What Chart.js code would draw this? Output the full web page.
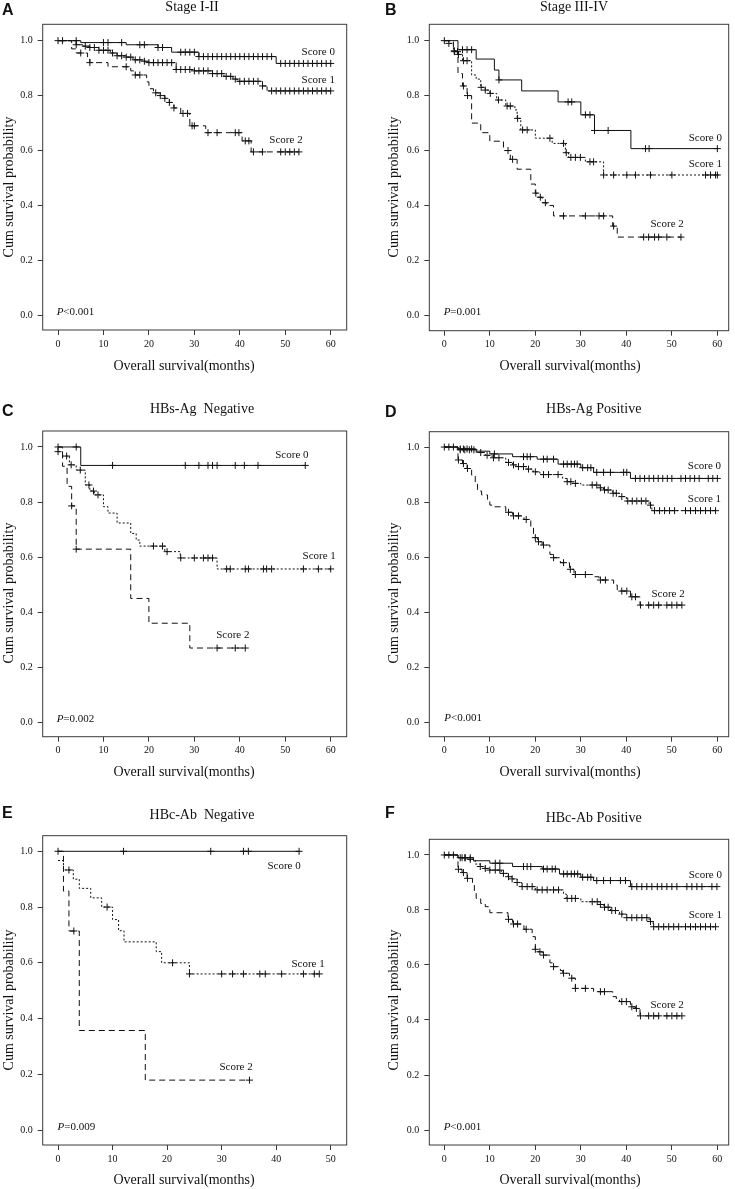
<!DOCTYPE html>
<html>
<head>
<meta charset="utf-8">
<script src="https://cdn.jsdelivr.net/npm/chart.js@4.4.1/dist/chart.umd.min.js"></script>
<style>
  html, body { margin: 0; padding: 0; background: #fff; }
  body { position: relative; width: 735px; height: 1189px; overflow: hidden; }
  canvas { position: absolute; }
</style>
</head>
<body>
<script>
// Kaplan-Meier curves: steps are [month, survival after the drop],
// censored are the months carrying a "+" mark.

// A: Stage I-II
const stageLowScore0Steps = [[0, 1], [5, 0.993], [15, 0.985], [22, 0.975], [25, 0.958], [31, 0.942], [48, 0.917]]
const stageLowScore0Censored = [0, 1, 4, 10, 11, 14, 18, 19, 22, 23, 27, 28, 29, 30, 31, 32, 33, 34, 35, 36, 37, 38, 39, 40, 41, 42, 43, 44, 45, 46, 47, 49, 50, 51, 52, 53, 54, 55, 56, 57, 58, 59, 60]
const stageLowScore1Steps = [[0, 1], [4, 0.985], [5.5, 0.98], [7, 0.975], [9, 0.965], [11.5, 0.955], [13, 0.945], [15, 0.94], [16.5, 0.93], [19, 0.925], [20, 0.92], [26, 0.895], [30, 0.89], [34, 0.88], [36.5, 0.87], [38.5, 0.86], [39.5, 0.852], [45, 0.835], [46, 0.817]]
const stageLowScore1Censored = [4, 6, 7, 8, 9, 10, 11, 12, 13, 14, 15, 16, 17, 18, 19, 20, 21, 22, 23, 24, 25, 26, 27, 28, 29, 30, 31, 32, 33, 34, 35, 36, 37, 38, 39, 40, 41, 42, 43, 44, 45, 47, 48, 49, 50, 51, 52, 53, 54, 55, 56, 57, 58, 59, 60]
const stageLowScore2Steps = [[0, 1], [3, 0.97], [4, 0.955], [6.5, 0.935], [7, 0.92], [11, 0.905], [16, 0.89], [17, 0.875], [19.5, 0.85], [20, 0.825], [21, 0.81], [22.5, 0.8], [23.5, 0.79], [24.5, 0.775], [25.5, 0.755], [27, 0.735], [29, 0.69], [32.5, 0.665], [40.5, 0.635], [42.5, 0.595]]
const stageLowScore2Censored = [5, 7, 15, 17, 18, 21.5, 22.5, 23.5, 24.5, 25.5, 27.5, 28.5, 29.5, 30, 33, 35, 39, 39.8, 41.2, 42, 43, 45, 49, 50, 51, 52, 53]

// B: Stage III-IV
const stageHighScore0Steps = [[0, 1], [3, 0.967], [7, 0.933], [11, 0.893], [12, 0.857], [17, 0.817], [25, 0.777], [30, 0.73], [33, 0.673], [41, 0.607]]
const stageHighScore0Censored = [0, 4, 5, 6, 12, 27.2, 28, 31, 32, 33, 36, 44.2, 45, 60]
const stageHighScore1Steps = [[0, 1], [1, 0.99], [2, 0.963], [3, 0.95], [4, 0.927], [6, 0.875], [7, 0.86], [8, 0.83], [9, 0.82], [10, 0.808], [11.5, 0.784], [13.5, 0.762], [15.5, 0.748], [16, 0.717], [16.8, 0.675], [20, 0.645], [23.7, 0.626], [26.6, 0.592], [27.3, 0.575], [31, 0.559], [35, 0.511]]
const stageHighScore1Censored = [1, 2.2, 3.1, 4.2, 5, 8.1, 9, 10.1, 11.9, 13.8, 14.5, 16.1, 17.2, 18.2, 23.2, 26.2, 26.8, 27.8, 28.8, 29.9, 32, 32.8, 35, 37.2, 40.1, 42, 45.3, 50, 57.4, 58.5, 59.6, 60]
const stageHighScore2Steps = [[0, 1], [2, 0.96], [3, 0.88], [4, 0.835], [5, 0.8], [6, 0.7], [8, 0.665], [10, 0.634], [13, 0.6], [14.5, 0.568], [16, 0.532], [19, 0.478], [20, 0.445], [20.5, 0.43], [21.5, 0.41], [22.5, 0.4], [24, 0.362], [37, 0.325], [38, 0.285]]
const stageHighScore2Censored = [2.2, 2.9, 4.2, 5.1, 14, 15, 20.1, 21.1, 22.2, 26.2, 31, 34, 35, 37.2, 43.8, 44.9, 46.2, 47.1, 48.9, 52]

// C: HBs-Ag Negative
const hbsNegScore0Steps = [[0, 1], [5, 0.933]]
const hbsNegScore0Censored = [0, 4, 12, 28, 31, 33, 34, 35, 39, 41, 44, 54.4]
const hbsNegScore1Steps = [[0, 0.983], [1, 0.967], [2.5, 0.935], [4, 0.916], [6, 0.862], [7, 0.84], [8, 0.826], [10, 0.783], [11, 0.76], [13, 0.724], [16, 0.686], [17.2, 0.662], [18, 0.64], [23.5, 0.62], [26.9, 0.597], [35, 0.557]]
const hbsNegScore1Censored = [0, 1.9, 2.9, 4.9, 6.8, 7.8, 8.8, 21, 23, 24, 27, 30, 32, 33, 34, 37.1, 37.9, 41.2, 41.9, 45.2, 45.9, 47, 54, 57.3, 60]
const hbsNegScore2Steps = [[0, 1], [1, 0.93], [2, 0.857], [3, 0.786], [4, 0.629], [16, 0.45], [20, 0.36], [29, 0.27]]
const hbsNegScore2Censored = [3, 4, 35, 39, 41.2]

// D: HBs-Ag Positive
const hbsPosScore0Steps = [[0, 1], [3, 0.993], [7, 0.985], [10, 0.975], [15, 0.965], [20.4, 0.956], [25, 0.938], [30, 0.925], [32.8, 0.908], [40.9, 0.886]]
const hbsPosScore0Censored = [0, 1, 2, 3.5, 4.2, 5, 6, 11, 17.4, 18.2, 18.9, 21.8, 22.6, 24, 26.2, 27, 27.9, 28.6, 29.2, 30.4, 31.5, 32.2, 33.5, 35, 36.5, 39.4, 40.1, 42, 43, 44, 45, 46, 47, 48, 49, 50, 52, 53, 54, 55, 56, 58, 59, 60]
const hbsPosScore1Steps = [[0, 1], [3, 0.99], [7, 0.98], [9, 0.97], [10.5, 0.961], [13.5, 0.944], [15, 0.935], [16, 0.929], [18, 0.92], [19.5, 0.91], [21, 0.9], [26, 0.886], [27, 0.874], [28, 0.868], [30, 0.862], [34, 0.852], [35, 0.844], [37, 0.832], [38.5, 0.82], [40, 0.804], [45, 0.789], [45.6, 0.769]]
const hbsPosScore1Censored = [3.5, 4.5, 5.5, 6.5, 8, 9.4, 10.8, 12, 14.1, 15.2, 16.3, 17.4, 18.5, 20, 21.8, 22.9, 25, 27, 27.8, 28.8, 32.5, 33.5, 34.3, 35.2, 36, 37.1, 37.8, 39, 40.3, 41.3, 42.3, 43.3, 44.3, 45.3, 46.2, 47.3, 48.4, 49.5, 50.6, 53, 54.1, 55.2, 56.3, 57.4, 58.5, 59.6]
const hbsPosScore2Steps = [[0, 1], [3, 0.953], [4, 0.94], [5, 0.922], [6, 0.898], [6.8, 0.868], [7.3, 0.84], [8.2, 0.826], [9.5, 0.81], [10, 0.789], [10.5, 0.783], [13.5, 0.763], [15, 0.75], [17.5, 0.737], [19, 0.707], [19.6, 0.671], [20.5, 0.656], [21.5, 0.644], [23.2, 0.61], [24, 0.598], [25.5, 0.58], [27.5, 0.556], [28.5, 0.537], [32.8, 0.529], [34, 0.517], [37.2, 0.499], [38, 0.477], [40.9, 0.456], [43, 0.426]]
const hbsPosScore2Censored = [3.1, 4.2, 5.1, 14.1, 15.2, 16.3, 18, 20, 20.7, 21.8, 24, 26.2, 27.7, 28.8, 31, 34.3, 35.4, 39, 40.1, 41.2, 42, 43.1, 44.9, 46, 47.1, 48.9, 50, 51.1, 52.2]

// E: HBc-Ab Negative
const hbcNegScore0Steps = [[0, 1]]
const hbcNegScore0Censored = [0, 12, 28, 34, 34.9, 44.2]
const hbcNegScore1Steps = [[0, 0.967], [1, 0.933], [2.8, 0.9], [3.9, 0.867], [6, 0.833], [8, 0.8], [10, 0.755], [11.1, 0.715], [12.1, 0.675], [18, 0.64], [19, 0.6], [24.1, 0.56]]
const hbcNegScore1Censored = [2, 9, 21, 24.1, 30, 32, 34, 37, 38, 41, 45, 47, 47.9]
const hbcNegScore2Steps = [[0, 1], [1, 0.857], [2, 0.714], [3.9, 0.357], [16, 0.179]]
const hbcNegScore2Censored = [2.9, 35.1]

// F: HBc-Ab Positive
const hbcPosScore0Steps = [[0, 1], [3, 0.99], [6.4, 0.979], [10, 0.97], [15, 0.958], [21.5, 0.949], [25.3, 0.931], [30, 0.919], [32.8, 0.907], [40.9, 0.885]]
const hbcPosScore0Censored = [0, 1, 2, 3.9, 4.6, 5.7, 11.2, 12.2, 17.4, 18.2, 19, 21.8, 22.6, 23.7, 24.4, 26.2, 27, 27.9, 28.6, 29.3, 30.4, 31.5, 32.2, 33.5, 35, 36.5, 38.7, 39.8, 41.2, 42.3, 43.4, 44.5, 45.6, 46.8, 47.8, 48.9, 50, 51.1, 53.3, 54.4, 55.5, 56.6, 58.8, 59.9]
const hbcPosScore1Steps = [[0, 1], [3, 0.99], [5, 0.984], [6.8, 0.967], [7.9, 0.958], [9, 0.951], [10, 0.945], [12.5, 0.933], [14, 0.921], [14.9, 0.913], [16, 0.9], [17, 0.885], [20, 0.873], [26.2, 0.858], [26.8, 0.842], [30, 0.83], [34, 0.82], [35, 0.81], [36.5, 0.798], [38.5, 0.785], [40, 0.772], [45, 0.758], [45.9, 0.739]]
const hbcPosScore1Censored = [3.5, 4.5, 5.7, 7.9, 9, 10, 11.2, 12.2, 13, 14.1, 14.9, 16, 17.1, 18.2, 19.3, 20.4, 21.5, 22.6, 24, 25.1, 27, 28, 28.8, 32.5, 33.6, 34.3, 35.2, 36, 36.8, 37.6, 39, 40.1, 41.2, 42.3, 43.4, 44.5, 45.3, 46, 47.1, 48.2, 49.3, 50.4, 51.5, 53, 54.1, 55.2, 56.3, 57.4, 58.5, 59.6]
const hbcPosScore2Steps = [[0, 1], [3, 0.948], [3.9, 0.936], [5, 0.915], [6.2, 0.89], [6.6, 0.867], [7, 0.842], [8, 0.824], [9, 0.812], [10, 0.79], [14, 0.766], [15, 0.749], [17.5, 0.73], [19.3, 0.703], [20, 0.657], [20.5, 0.648], [21.5, 0.636], [23.2, 0.608], [24, 0.594], [25.5, 0.58], [26, 0.57], [27.5, 0.552], [28.8, 0.515], [32.8, 0.503], [37, 0.485], [37.8, 0.473], [38.5, 0.467], [40.9, 0.448], [42, 0.442], [43, 0.415]]
const hbcPosScore2Censored = [3.1, 4.2, 5.1, 14.1, 15.2, 16.1, 18, 20, 21, 21.8, 24, 26.2, 28, 28.8, 31, 34.3, 35.2, 39, 40, 41.2, 42.2, 43.1, 44.9, 46, 47.1, 48.9, 50, 51.1, 52.2]

const scoreNames = ['Score 0', 'Score 1', 'Score 2']
const yTicks = [0, 0.2, 0.4, 0.6, 0.8, 1.0]

const INK = '#111'
const SERIF = '"Liberation Serif", "Times New Roman", serif'

// KM value of a step curve at month t (value after the last drop at or before t)
function survivalAt(steps, t) {
  let v = steps[0][1]
  for (const [time, value] of steps) {
    if (time <= t) v = value
  }
  return v
}

function buildCurve(steps, censored) {
  const end = Math.max(steps[steps.length - 1][0], ...censored)
  const line = steps.map(([x, y]) => ({ x, y }))
  line.push({ x: end, y: steps[steps.length - 1][1] })
  const marks = censored.map(t => ({ x: t, y: survivalAt(steps, t) }))
  return { line, marks }
}

const panels = [
  {
    letter: 'A', title: 'Stage I-II', pText: '<0.001',
    left: 0, top: 0, w: 367, h: 385,
    area: { l: 42.7, t: 24.3, r: 346.7, b: 330 },
    x: { min: -3.37, max: 63.52 }, y: { min: -0.0534, max: 1.0595 },
    letterAt: [2, 15], titleAt: [192, 11], yTitleAt: [9, 187], xTitleAt: [184, 366],
    curves: [[stageLowScore0Steps, stageLowScore0Censored], [stageLowScore1Steps, stageLowScore1Censored], [stageLowScore2Steps, stageLowScore2Censored]],
    labelsAt: [[53.6, 0.948], [53.6, 0.845], [46.5, 0.629]], pAt: [-0.3, 0.001],
    dash1: [4, 1]
  },
  {
    letter: 'B', title: 'Stage III-IV', pText: '=0.001',
    left: 367, top: 0, w: 368, h: 385,
    area: { l: 62.3, t: 24.3, r: 361.7, b: 330.7 },
    x: { min: -3.3, max: 62.49 }, y: { min: -0.0558, max: 1.0595 },
    letterAt: [18, 15], titleAt: [207, 11], yTitleAt: [27.5, 187], xTitleAt: [203, 366],
    curves: [[stageHighScore0Steps, stageHighScore0Censored], [stageHighScore1Steps, stageHighScore1Censored], [stageHighScore2Steps, stageHighScore2Censored]],
    labelsAt: [[53.7, 0.636], [53.7, 0.541], [45.3, 0.32]], pAt: [-0.15, 0.001]
  },
  {
    letter: 'C', title: 'HBs-Ag  Negative', pText: '=0.002',
    left: 0, top: 385, w: 367, h: 400,
    area: { l: 42.7, t: 46, r: 346.7, b: 351.7 },
    x: { min: -3.37, max: 63.52 }, y: { min: -0.052, max: 1.058 },
    letterAt: [2, 30.7], titleAt: [202, 28.3], yTitleAt: [9, 208], xTitleAt: [184, 387],
    curves: [[hbsNegScore0Steps, hbsNegScore0Censored], [hbsNegScore1Steps, hbsNegScore1Censored], [hbsNegScore2Steps, hbsNegScore2Censored]],
    labelsAt: [[47.8, 0.961], [53.8, 0.593], [34.8, 0.305]], pAt: [-0.3, 0.003]
  },
  {
    letter: 'D', title: 'HBs-Ag Positive', pText: '<0.001',
    left: 367, top: 385, w: 368, h: 400,
    area: { l: 62.3, t: 46.7, r: 361.7, b: 351.7 },
    x: { min: -3.3, max: 62.49 }, y: { min: -0.052, max: 1.0557 },
    letterAt: [18, 31.7], titleAt: [226.7, 28.3], yTitleAt: [27.5, 208], xTitleAt: [203, 387],
    curves: [[hbsPosScore0Steps, hbsPosScore0Censored], [hbsPosScore1Steps, hbsPosScore1Censored], [hbsPosScore2Steps, hbsPosScore2Censored]],
    labelsAt: [[53.5, 0.922], [53.5, 0.801], [45.5, 0.456]], pAt: [0, 0.005]
  },
  {
    letter: 'E', title: 'HBc-Ab  Negative', pText: '=0.009',
    left: 0, top: 770, w: 367, h: 419,
    area: { l: 42.7, t: 65.7, r: 346.7, b: 375 },
    x: { min: -2.81, max: 52.93 }, y: { min: -0.0538, max: 1.056 },
    letterAt: [2, 48.3], titleAt: [202, 49.3], yTitleAt: [9, 230], xTitleAt: [184, 410],
    curves: [[hbcNegScore0Steps, hbcNegScore0Censored], [hbcNegScore1Steps, hbcNegScore1Censored], [hbcNegScore2Steps, hbcNegScore2Censored]],
    labelsAt: [[38.4, 0.935], [42.8, 0.586], [29.6, 0.215]], pAt: [-0.1, 0.001]
  },
  {
    letter: 'F', title: 'HBc-Ab Positive', pText: '<0.001',
    left: 367, top: 770, w: 368, h: 419,
    area: { l: 62.3, t: 69.3, r: 361.7, b: 375 },
    x: { min: -3.3, max: 62.49 }, y: { min: -0.0545, max: 1.057 },
    letterAt: [18, 48.3], titleAt: [226.7, 51.7], yTitleAt: [27.5, 230], xTitleAt: [203, 410],
    curves: [[hbcPosScore0Steps, hbcPosScore0Censored], [hbcPosScore1Steps, hbcPosScore1Censored], [hbcPosScore2Steps, hbcPosScore2Censored]],
    labelsAt: [[53.7, 0.915], [53.7, 0.77], [45.3, 0.445]], pAt: [-0.15, 0.001]
  }
]

// frame, panel letter, titles and curve labels
const decorations = {
  id: 'decorations',
  afterDraw(chart, args, opts) {
    const p = opts.panel
    const { ctx, chartArea: a, scales } = chart
    ctx.save()
    ctx.strokeStyle = '#3a3a3a'
    ctx.lineWidth = 1
    ctx.strokeRect(a.left, a.top, a.right - a.left, a.bottom - a.top)

    ctx.fillStyle = INK
    ctx.textBaseline = 'alphabetic'
    ctx.font = 'bold 16px "Liberation Sans", Arial, sans-serif'
    ctx.textAlign = 'left'
    ctx.fillText(p.letter, p.letterAt[0], p.letterAt[1])

    ctx.font = '14px ' + SERIF
    ctx.textAlign = 'center'
    ctx.fillText(p.title, p.titleAt[0], p.titleAt[1])

    ctx.textBaseline = 'middle'
    ctx.fillText('Overall survival(months)', p.xTitleAt[0], p.xTitleAt[1])
    ctx.save()
    ctx.translate(p.yTitleAt[0], p.yTitleAt[1])
    ctx.rotate(-Math.PI / 2)
    ctx.fillText('Cum survival probability', 0, 0)
    ctx.restore()

    ctx.textBaseline = 'alphabetic'
    ctx.textAlign = 'left'
    ctx.font = '11px ' + SERIF
    p.labelsAt.forEach(([t, v], i) => {
      ctx.fillText(scoreNames[i], scales.x.getPixelForValue(t), scales.y.getPixelForValue(v))
    })

    const px = scales.x.getPixelForValue(p.pAt[0])
    const py = scales.y.getPixelForValue(p.pAt[1])
    ctx.font = 'italic 11px ' + SERIF
    ctx.fillText('P', px, py)
    const pw = ctx.measureText('P').width
    ctx.font = '11px ' + SERIF
    ctx.fillText(p.pText, px + pw, py)
    ctx.restore()
  }
}

function renderPanel(p) {
  const canvas = document.createElement('canvas')
  canvas.width = p.w
  canvas.height = p.h
  canvas.style.left = p.left + 'px'
  canvas.style.top = p.top + 'px'
  document.body.appendChild(canvas)

  const dashes = [[], p.dash1 || [2, 2], [6, 4]]
  const datasets = []
  p.curves.forEach(([steps, censored], i) => {
    const curve = buildCurve(steps, censored)
    datasets.push({
      label: scoreNames[i],
      data: curve.line,
      stepped: true,
      borderColor: INK,
      borderWidth: 1,
      borderDash: dashes[i],
      pointRadius: 0,
      fill: false
    })
    datasets.push({
      label: scoreNames[i] + ' censored',
      data: curve.marks,
      showLine: false,
      pointStyle: 'cross',
      pointRadius: 3.5,
      pointHoverRadius: 3.5,
      borderColor: INK,
      borderWidth: 1
    })
  })

  const tickFont = { family: SERIF, size: 10 }

  return new Chart(canvas, {
    type: 'line',
    data: { datasets },
    plugins: [decorations],
    options: {
      responsive: false,
      animation: false,
      devicePixelRatio: 1,
      layout: { padding: { top: p.area.t, right: p.w - p.area.r, left: 0, bottom: 0 } },
      plugins: {
        legend: { display: false },
        tooltip: { enabled: false },
        decorations: { panel: p }
      },
      scales: {
        x: {
          type: 'linear',
          min: p.x.min,
          max: p.x.max,
          afterFit: s => { s.height = p.h - p.area.b },
          ticks: { stepSize: 10, includeBounds: false, autoSkip: false, maxRotation: 0, padding: 3, color: INK, font: tickFont },
          grid: { drawOnChartArea: false, tickLength: 5, color: '#3a3a3a' },
          border: { display: false }
        },
        y: {
          min: p.y.min,
          max: p.y.max,
          afterFit: s => { s.width = p.area.l },
          afterBuildTicks: s => { s.ticks = yTicks.map(value => ({ value })) },
          ticks: { padding: 5, color: INK, font: tickFont, callback: v => v.toFixed(1) },
          grid: { drawOnChartArea: false, tickLength: 5, color: '#3a3a3a' },
          border: { display: false }
        }
      }
    }
  })
}

panels.forEach(renderPanel)
</script>
</body>
</html>
